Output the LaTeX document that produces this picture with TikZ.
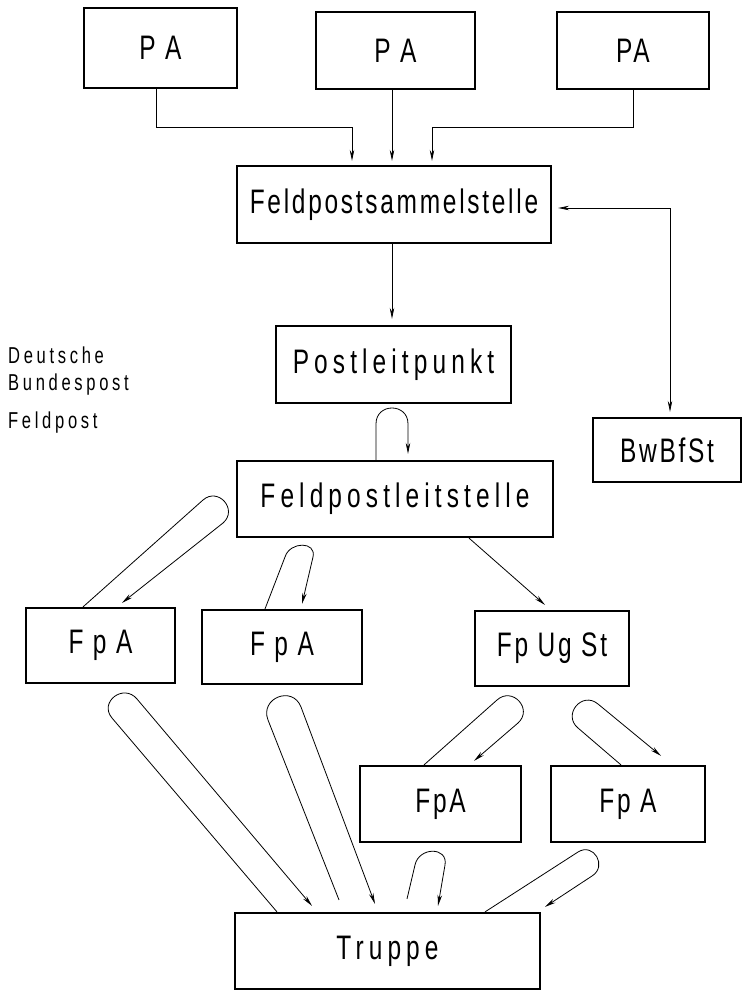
\documentclass[tikz,border=0pt]{standalone}
\usepackage{fontspec}
\setmainfont{Liberation Sans}
\newfontfamily\boxfont{Liberation Sans}[FakeStretch=0.72,LetterSpace=8]
\newfontfamily\widefont{Liberation Sans}[FakeStretch=0.72,LetterSpace=15]
\newfontfamily\smallfont{Liberation Sans}[FakeStretch=0.72,LetterSpace=16]
\usepackage{tikz}
\usetikzlibrary{arrows.meta,positioning,calc}
\tikzset{
    box/.style={
        rectangle,
        draw=black,
        line width=2.2pt,
        inner sep=0pt,
        font=\boxfont\fontsize{34}{40}\selectfont,
    },
    wbox/.style={
        box,
        font=\widefont\fontsize{34}{40}\selectfont,
    },
    flow/.style={
        ->,
        line width=0.8pt,
    },
}

\begin{document}
\begin{tikzpicture}[x=1pt,y=1pt,>={Stealth[length=11pt,width=4.5pt]}]
    \useasboundingbox (0,0) rectangle (743,-993);
    \node [box, minimum width=153pt, minimum height=80pt] (PA1) at (160.5,-48) {P A};
    \node [box, minimum width=159pt, minimum height=77pt] (PA2) at (395.5,-50.5) {P A};
    \node [box, minimum width=152pt, minimum height=77pt] (PA3) at (633,-50.5) {PA};
    \node [box, minimum width=314pt, minimum height=77pt] (FPS) at (394,-204.5) {Feldpostsammelstelle};
    \node [wbox, minimum width=235pt, minimum height=77pt] (PLP) at (393.5,-364.5) {Postleitpunkt};
    \node [box, minimum width=148pt, minimum height=64pt] (BwBfSt) at (667,-450) {BwBfSt};
    \node [wbox, minimum width=316pt, minimum height=76pt] (FLS) at (395,-499) {Feldpostleitstelle};
    \node [box, minimum width=149pt, minimum height=75pt] (FpA1) at (100.5,-645.5) {F p A};
    \node [box, minimum width=160pt, minimum height=74pt] (FpA2) at (282,-647) {F p A};
    \node [box, minimum width=154pt, minimum height=75pt] (FpUgSt) at (552,-648.5) {Fp Ug St};
    \node [box, minimum width=161pt, minimum height=76pt] (FpA3) at (440.5,-804) {FpA};
    \node [box, minimum width=154pt, minimum height=76pt] (FpA4) at (628,-804) {Fp A};
    \node [wbox, minimum width=305pt, minimum height=76pt] (Truppe) at (387.5,-951) {Truppe};
    \node [anchor=north west, align=left, inner sep=0pt, font=\smallfont\fontsize{23}{27}\selectfont] (DBP) at (8,-347) {Deutsche\\Bundespost\\[11pt]Feldpost};
    % Postaemter zur Sammelstelle
    \draw[flow] ([xshift=-4.5pt]PA1.south) |- ([xshift=-42pt,yshift=38pt]FPS.north) -- ([xshift=-42pt,yshift=4pt]FPS.north);
    \draw[flow] ([xshift=-3.5pt]PA2.south) -- ([xshift=-2pt,yshift=4pt]FPS.north);
    \draw[flow] (PA3.south) |- ([xshift=38pt,yshift=38pt]FPS.north) -- ([xshift=38pt,yshift=4pt]FPS.north);
    \draw[flow] ([xshift=-2pt]FPS.south) -- ([xshift=-1.5pt,yshift=6pt]PLP.north);
    \draw[flow,<->] ([xshift=6pt,yshift=-3.5pt]FPS.east) -| ([xshift=3pt,yshift=5pt]BwBfSt.north);
    % Schleifen
    \draw[flow] ([xshift=-19pt]FLS.north) -- ++(0,36) to[out=90,in=90,looseness=1.7] ++(32,0) -- ++(0,-30);
    \draw[flow] ([xshift=-17.5pt]FpA1.north) -- (203,-500) to[out=41,in=41,looseness=1.7] (223,-523) -- ([xshift=21.5pt,yshift=4pt]FpA1.north);
    \draw[flow] ([xshift=-17pt]FpA2.north) -- (285,-557) to[out=73,in=77,looseness=1.5] (313,-557) -- ([xshift=20pt,yshift=5pt]FpA2.north);
    \draw[flow] ([xshift=74pt]FLS.south) -- ([xshift=-7pt,yshift=5pt]FpUgSt.north);
    \draw[flow] ([xshift=-16.5pt]FpA3.north) -- (497,-700) to[out=42,in=42,looseness=1.7] (518,-723) -- ([xshift=33.5pt,yshift=4pt]FpA3.north);
    \draw[flow] ([xshift=-7pt]FpA4.north) -- (578,-728) to[out=140,in=140,looseness=1.7] (598,-704) -- ([xshift=33pt,yshift=9pt]FpA4.north);
    \draw[flow] ([xshift=-110.5pt]Truppe.north) -- (112,-718) to[out=130,in=130,looseness=1.7] (137,-699) -- ([xshift=-75.5pt,yshift=6pt]Truppe.north);
    \draw[flow] ([xshift=-48.5pt,yshift=12pt]Truppe.north) -- (268,-720) to[out=111,in=111,looseness=1.7] (301,-707) -- ([xshift=-12.5pt,yshift=8pt]Truppe.north);
    \draw[flow] ([xshift=19.5pt,yshift=13pt]Truppe.north) -- (415,-865) to[out=78,in=80,looseness=1.6] (445,-865) -- ([xshift=50.5pt,yshift=6pt]Truppe.north);
    \draw[flow] ([xshift=97.5pt]Truppe.north) -- (578,-852) to[out=32,in=32,looseness=1.7] (592,-876) -- ([xshift=157.5pt,yshift=5pt]Truppe.north);
\end{tikzpicture}
\end{document}
